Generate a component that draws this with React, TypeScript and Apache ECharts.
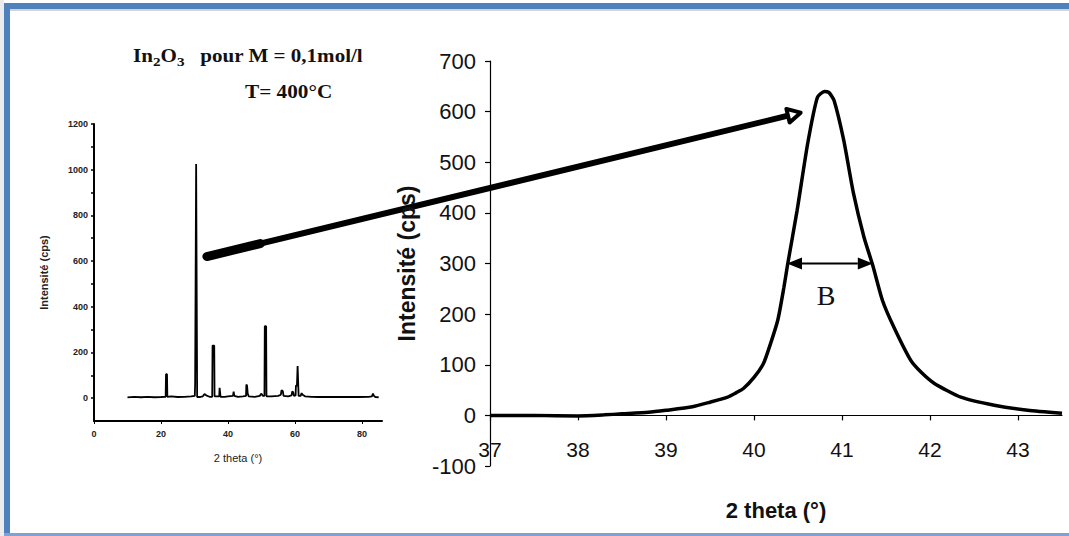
import React, { useEffect, useRef } from "react";
import * as echarts from "echarts";

// Main (zoomed) peak: 2θ (°) and intensity (cps)
const mainTheta = [37, 37.5, 38, 38.3, 38.5, 38.8, 39, 39.3, 39.5, 39.7, 39.8, 39.88, 40, 40.1, 40.15, 40.27, 40.34, 40.38, 40.49, 40.61, 40.72, 40.8, 40.85, 40.91, 41.02, 41.13, 41.25, 41.35, 41.46, 41.59, 41.78, 41.9, 42.05, 42.35, 42.73, 43.11, 43.5];
const mainIntensity = [0, 0, -1, 1, 3, 6, 10, 17, 26, 36, 45, 53, 75, 100, 122, 188, 253, 296, 405, 537, 628, 640, 638, 622, 543, 439, 352, 296, 227, 174, 109, 85, 63, 36, 20, 10, 4];
const mainXLabels = [37, 38, 39, 40, 41, 42, 43];
const mainYLabels = [-100, 0, 100, 200, 300, 400, 500, 600, 700];

// Inset: full diffractogram
const insetTheta = [10, 12, 14, 16, 18, 20, 21.4, 21.5, 21.8, 21.9, 23, 25, 27, 29, 30.1, 30.2, 30.4, 30.5, 30.7, 30.8, 31.5, 32.5, 33, 33.5, 34.5, 35.3, 35.4, 35.9, 36, 37.4, 37.5, 37.7, 37.8, 39, 40, 41.5, 41.7, 41.9, 43, 44.5, 45.4, 45.5, 45.7, 45.9, 46.2, 48, 49.5, 50, 50.4, 50.9, 51, 51.4, 51.5, 53, 55, 55.8, 56, 56.4, 56.6, 58, 59, 59.2, 59.5, 59.7, 60.2, 60.3, 60.6, 60.8, 61, 61.1, 61.7, 62, 62.3, 63, 65, 67, 70, 73, 76, 79, 82, 83, 83.3, 83.6, 84, 85];
const insetIntensity = [3, 6, 4, 6, 4, 5, 6, 105, 105, 6, 8, 5, 6, 8, 10, 65, 65, 1025, 1025, 5, 5, 8, 18, 12, 6, 6, 230, 230, 8, 8, 45, 45, 6, 6, 8, 10, 28, 10, 6, 8, 10, 60, 55, 20, 8, 6, 10, 20, 10, 10, 315, 315, 8, 8, 10, 15, 35, 30, 10, 8, 12, 30, 25, 10, 12, 55, 55, 141, 141, 10, 10, 22, 15, 8, 6, 5, 6, 5, 6, 5, 6, 8, 20, 10, 5, 4];
const insetXLabels = [0, 20, 40, 60, 80];
const insetYLabels = [0, 200, 400, 600, 800, 1000, 1200];
const insetYTicks = [0, 100, 200, 300, 400, 500, 600, 700, 800, 900, 1000, 1100, 1200];

const SANS = "'Liberation Sans', Arial, sans-serif";
const SERIF = "'Liberation Serif', 'Times New Roman', serif";

const MAIN_Y_MIN = -100;
const MAIN_Y_MAX = 700;
const MAIN_GRID_H = 405;

export default function App() {
  const ref = useRef<HTMLDivElement>(null);

  useEffect(() => {
    if (!ref.current) return;
    const chart = echarts.init(ref.current, undefined, { renderer: "svg" });

    const mainData = mainTheta.map((t, i) => [t, mainIntensity[i]]);
    const insetData = insetTheta.map((t, i) => [t, insetIntensity[i]]);
    const plain = (v: number) => String(v);
    // put the main x axis on the intensity 0 level
    const zeroOffset = -(MAIN_GRID_H * (0 - MAIN_Y_MIN)) / (MAIN_Y_MAX - MAIN_Y_MIN);

    chart.setOption({
      animation: false,
      backgroundColor: "#ffffff",
      grid: [
        { left: 490, top: 61, width: 572, height: MAIN_GRID_H, outerBoundsMode: "none", containLabel: false },
        { left: 94, top: 124, width: 288, height: 297, outerBoundsMode: "none", containLabel: false },
      ],
      xAxis: [
        {
          gridIndex: 0,
          type: "value",
          min: 37,
          max: 43.5,
          position: "bottom",
          offset: zeroOffset,
          axisLine: { onZero: false, lineStyle: { color: "#000", width: 1.2 } },
          axisTick: { show: true, inside: false, length: 5, customValues: mainXLabels, lineStyle: { color: "#000", width: 1.2 } },
          axisLabel: { customValues: mainXLabels, formatter: plain, color: "#111", fontSize: 21, fontFamily: SANS, margin: 24 },
          splitLine: { show: false },
          name: "2 theta (°)",
          nameLocation: "middle",
          nameGap: 84,
          nameTextStyle: { color: "#111", fontSize: 22, fontWeight: "bold", fontFamily: SANS },
        },
        {
          gridIndex: 1,
          type: "value",
          min: 0,
          max: 86,
          axisLine: { onZero: false, lineStyle: { color: "#000", width: 2 } },
          axisTick: { show: true, inside: false, length: 3, customValues: insetXLabels, lineStyle: { color: "#000" } },
          axisLabel: { customValues: insetXLabels, formatter: plain, color: "#222", fontSize: 9, fontFamily: SANS, fontWeight: "bold", margin: 8 },
          splitLine: { show: false },
          name: "2 theta (°)",
          nameLocation: "middle",
          nameGap: 31,
          nameTextStyle: { color: "#222", fontSize: 11, fontFamily: SANS },
        },
      ],
      yAxis: [
        {
          gridIndex: 0,
          type: "value",
          min: MAIN_Y_MIN,
          max: MAIN_Y_MAX,
          interval: 100,
          axisLine: { show: true, onZero: false, lineStyle: { color: "#000", width: 1.2 } },
          axisTick: { show: true, inside: false, length: 5, customValues: mainYLabels, lineStyle: { color: "#000", width: 1.2 } },
          axisLabel: { customValues: mainYLabels, formatter: plain, color: "#111", fontSize: 22, fontFamily: SANS, margin: 14 },
          splitLine: { show: false },
          name: "Intensité (cps)",
          nameLocation: "middle",
          nameRotate: 90,
          nameGap: 72,
          nameTextStyle: { color: "#111", fontSize: 23, fontWeight: "bold", fontFamily: SANS },
        },
        {
          gridIndex: 1,
          type: "value",
          min: -100,
          max: 1200,
          axisLine: { show: true, onZero: false, lineStyle: { color: "#000", width: 2 } },
          axisTick: { show: true, inside: false, length: 3, customValues: insetYTicks, lineStyle: { color: "#000", width: 1.5 } },
          axisLabel: { customValues: insetYLabels, formatter: plain, color: "#222", fontSize: 9, fontFamily: SANS, fontWeight: "bold", margin: 6 },
          splitLine: { show: false },
          name: "Intensité (cps)",
          nameLocation: "middle",
          nameRotate: 90,
          nameGap: 45,
          nameTextStyle: { color: "#222", fontSize: 11, fontWeight: "bold", fontFamily: SANS },
        },
      ],
      series: [
        {
          type: "line",
          xAxisIndex: 0,
          yAxisIndex: 0,
          data: mainData,
          showSymbol: false,
          smooth: 0.2,
          lineStyle: { color: "#000", width: 3.5 },
          silent: true,
        },
        {
          type: "line",
          xAxisIndex: 1,
          yAxisIndex: 1,
          data: insetData,
          showSymbol: false,
          lineStyle: { color: "#000", width: 1.8 },
          silent: true,
        },
      ],
    });

    const pm = (v: number[]) => chart.convertToPixel({ xAxisIndex: 0, yAxisIndex: 0 }, v) as number[];
    const pi = (v: number[]) => chart.convertToPixel({ xAxisIndex: 1, yAxisIndex: 1 }, v) as number[];

    // big arrow from inset to the zoomed peak
    const S = pi([33.7, 620]);
    const T = pm([40.53, 598]);
    const dx = T[0] - S[0];
    const dy = T[1] - S[1];
    const len = Math.sqrt(dx * dx + dy * dy);
    const ux = dx / len;
    const uy = dy / len;
    const nx = -uy;
    const ny = ux;
    const headL = 13;
    const headW = 7;
    const B0 = [T[0] - ux * headL, T[1] - uy * headL];
    const blobEnd = [S[0] + ux * 55, S[1] + uy * 55];

    // B double arrow
    const L = pm([40.375, 300]);
    const R = pm([41.35, 300]);
    const bl = 15;
    const bw = 6;
    const Bpos = pm([40.82, 237]);

    chart.setOption({
      graphic: [
        // frame
        { type: "rect", shape: { x: 0, y: 0, width: 4, height: 536 }, style: { fill: "#ececec" }, silent: true },
        { type: "rect", shape: { x: 4, y: 9, width: 1065, height: 2 }, style: { fill: "#d4d4d4" }, silent: true },
        { type: "rect", shape: { x: 4, y: 3, width: 1065, height: 6 }, style: { fill: "#4f81bd" }, silent: true },
        { type: "rect", shape: { x: 4, y: 3, width: 6, height: 533 }, style: { fill: "#4f81bd" }, silent: true },
        { type: "rect", shape: { x: 4, y: 533, width: 1065, height: 3 }, style: { fill: "#7fa2d4" }, silent: true },
        // title
        {
          type: "text",
          x: 133,
          y: 56,
          scaleX: 1.17,
          style: {
            text: "{a|In}{s|2}{a|O}{s|3}{a|   pour M = 0,1mol/l}",
            verticalAlign: "middle",
            rich: {
              a: { fontFamily: SERIF, fontSize: 18, fontWeight: "bold", fill: "#111" },
              s: { fontFamily: SERIF, fontSize: 13, fontWeight: "bold", fill: "#111", padding: [10, 0, 0, 0] },
            },
          },
          silent: true,
        },
        {
          type: "text",
          x: 245,
          y: 92,
          scaleX: 1.18,
          style: { text: "T= 400°C", fontFamily: SERIF, fontSize: 18, fontWeight: "bold", fill: "#111", verticalAlign: "middle" },
          silent: true,
        },
        // big arrow
        {
          type: "line",
          shape: { x1: S[0], y1: S[1], x2: B0[0], y2: B0[1] },
          style: { stroke: "#000", lineWidth: 6, lineCap: "round" },
          silent: true,
        },
        {
          type: "line",
          shape: { x1: S[0], y1: S[1], x2: blobEnd[0], y2: blobEnd[1] },
          style: { stroke: "#000", lineWidth: 9, lineCap: "round" },
          silent: true,
        },
        {
          type: "polygon",
          shape: {
            points: [
              [T[0], T[1]],
              [B0[0] + nx * headW, B0[1] + ny * headW],
              [B0[0] - nx * headW, B0[1] - ny * headW],
            ],
          },
          style: { fill: "#fff", stroke: "#000", lineWidth: 4, lineJoin: "round" },
          silent: true,
        },
        // B arrow
        {
          type: "line",
          shape: { x1: L[0] + bl, y1: L[1], x2: R[0] - bl, y2: R[1] },
          style: { stroke: "#000", lineWidth: 2 },
          silent: true,
        },
        {
          type: "polygon",
          shape: { points: [[L[0], L[1]], [L[0] + bl, L[1] - bw], [L[0] + bl, L[1] + bw]] },
          style: { fill: "#000" },
          silent: true,
        },
        {
          type: "polygon",
          shape: { points: [[R[0], R[1]], [R[0] - bl, R[1] - bw], [R[0] - bl, R[1] + bw]] },
          style: { fill: "#000" },
          silent: true,
        },
        {
          type: "text",
          x: Bpos[0],
          y: Bpos[1],
          style: { text: "B", fontFamily: SERIF, fontSize: 28, fill: "#111", align: "center", verticalAlign: "middle" },
          silent: true,
        },
      ],
    });

    return () => {
      chart.dispose();
    };
  }, []);

  return (
    <div
      ref={ref}
      style={{ position: "absolute", left: 0, top: 0, width: 1069, height: 536 }}
    />
  );
}
